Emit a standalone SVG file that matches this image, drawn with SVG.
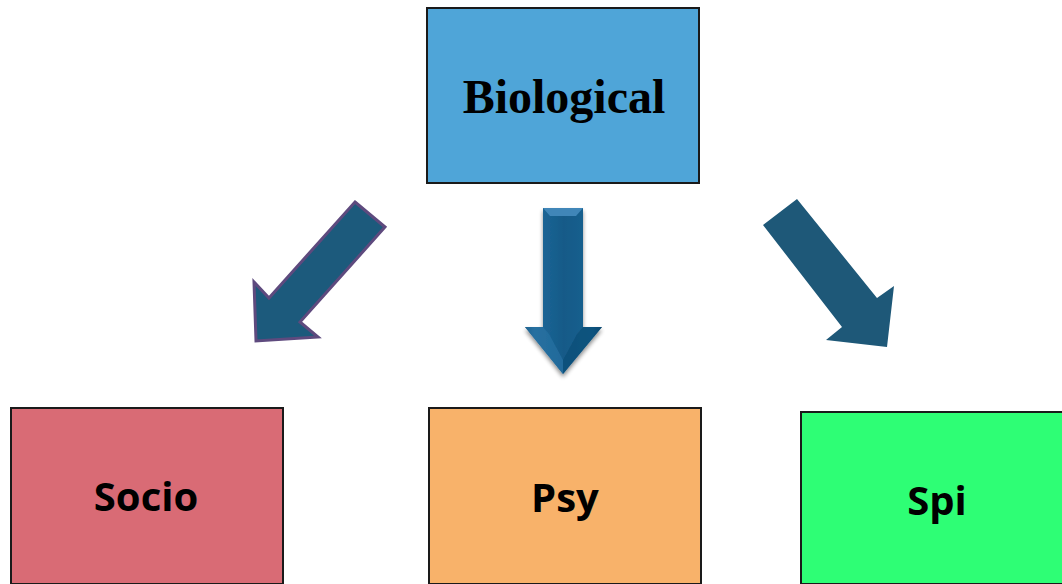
<svg xmlns="http://www.w3.org/2000/svg" width="1062" height="584" viewBox="0 0 1062 584">
<style>
.box{stroke:#1a1a1a;stroke-width:2}
.lbl{font-family:"Open Sans","Liberation Sans",sans-serif;font-weight:700;font-size:40px;fill:#000;text-anchor:middle}
.ttl{font-family:"Liberation Serif","Times New Roman",serif;font-weight:700;font-size:48px;fill:#000;text-anchor:middle}
</style>
<defs>
<linearGradient id="shaft" x1="0" y1="0" x2="1" y2="0">
<stop offset="0" stop-color="#0b456a"/>
<stop offset="0.12" stop-color="#1f6a9a"/>
<stop offset="0.5" stop-color="#155a88"/>
<stop offset="0.88" stop-color="#1a6190"/>
<stop offset="1" stop-color="#0b456a"/>
</linearGradient>
<filter id="sh" x="-30%" y="-10%" width="160%" height="130%">
<feGaussianBlur in="SourceAlpha" stdDeviation="2"/>
<feOffset dx="0" dy="3"/>
<feComponentTransfer><feFuncA type="linear" slope="0.45"/></feComponentTransfer>
<feMerge><feMergeNode/><feMergeNode in="SourceGraphic"/></feMerge>
</filter>
</defs>
<rect width="1062" height="584" fill="#fff"/>
<g id="biological">
<rect class="box" x="427" y="8" width="272" height="175" fill="#4fa5d8"/>
<text class="ttl" x="564" y="113">Biological</text>
</g>
<g id="socio">
<rect class="box" x="11" y="408" width="272" height="176" fill="#d96b75"/>
<text class="lbl" x="146" y="511">Socio</text>
</g>
<g id="psy">
<rect class="box" x="429" y="408" width="272" height="176" fill="#f8b26a"/>
<text class="lbl" x="565" y="512">Psy</text>
</g>
<g id="spi">
<rect class="box" x="801" y="412" width="272" height="172" fill="#2efe75"/>
<text class="lbl" x="937" y="515">Spi</text>
</g>
<g id="connectors">
<polygon points="355,202 385,227 300,322 318,337 256,341 254,282 269,298" fill="#1c5a7c" stroke="#5e4a7e" stroke-width="3" stroke-linejoin="miter"/>
<g filter="url(#sh)">
<polygon points="543,208 583,208 583,327 602,327 563,374 525,327 543,327" fill="url(#shaft)"/>
<polygon points="543,208 583,208 576,216 550,216" fill="#3f86b8"/>
<polygon points="525,327 543,327 549,334 563,360 563,374" fill="#2a72a3" opacity="0.7"/>
<polygon points="602,327 583,327 577,334 563,360 563,374" fill="#0e4d76" opacity="0.7"/>
</g>
<polygon points="763,225 797,199 877,298 894,286 887,347 826,340 842,327" fill="#1e5878"/>
</g>
</svg>
